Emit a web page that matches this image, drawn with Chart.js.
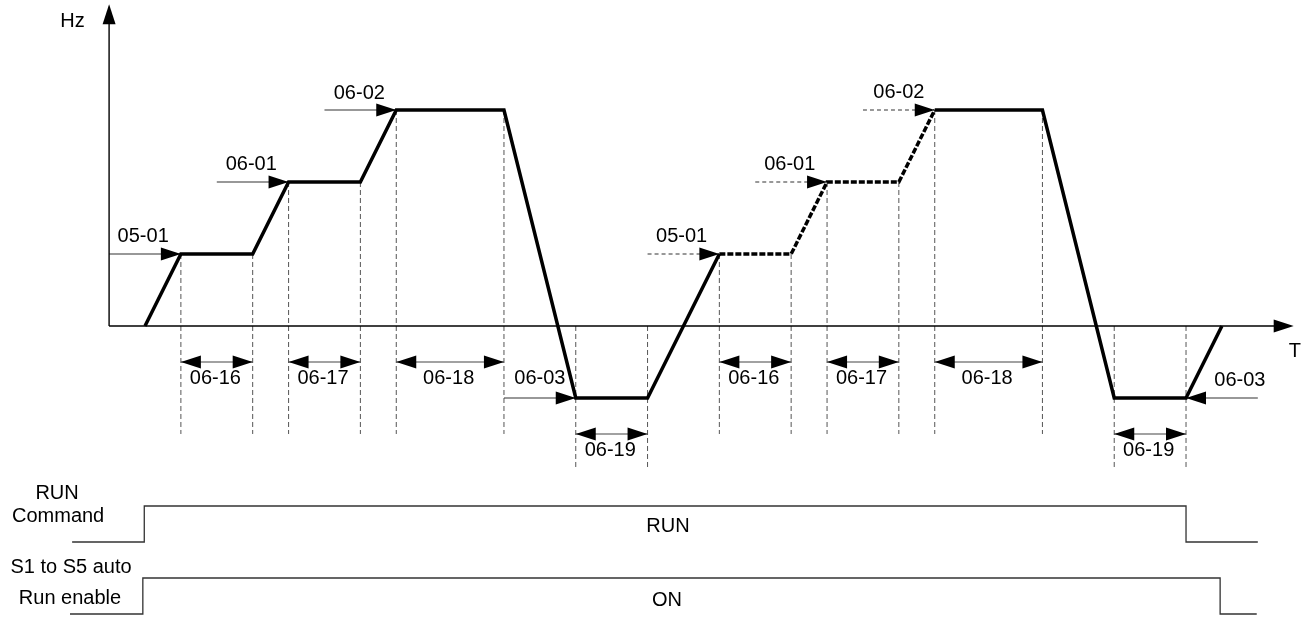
<!DOCTYPE html>
<html>
<head>
<meta charset="utf-8">
<title>Auto run timing</title>
<script src="https://cdn.jsdelivr.net/npm/chart.js@4.4.1/dist/chart.umd.min.js"></script>
<style>
  html, body { margin: 0; padding: 0; background: #fff; }
  #wrap { width: 1307px; height: 617px; }
</style>
</head>
<body>
<div id="wrap"><canvas id="myChart" width="1307" height="617"></canvas></div>
<script>
// time in ramp steps, frequency in preset levels
var solidT = [1, 2, 4, 5, 7, 8, 11, 13, 15, 17];
var solidHz = [0, 1, 1, 2, 2, 3, 3, -1, -1, 1];
var dashT = [17, 19, 20, 22, 23];
var dashHz = [1, 1, 2, 2, 3];
var tailT = [23, 26, 28, 30, 31];
var tailHz = [3, 3, -1, -1, 0];

// preset level arrows
var levelNames = ['05-01', '06-01', '06-02', '06-03', '05-01', '06-01', '06-02', '06-03'];
var levelFrom = [0, 3, 6, 11, 15, 18, 21, 32];
var levelTo = [2, 5, 8, 13, 17, 20, 23, 30];
var levelHz = [1, 2, 3, -1, 1, 2, 3, -1];
var levelDashed = [false, false, false, false, true, true, true, false];
var levelTextT = [0.95, 3.96, 6.97, 12.0, 15.95, 18.96, 22.0, 31.5];
var levelTextHz = [1.25, 2.24, 3.23, -0.73, 1.24, 2.24, 3.24, -0.76];

// timer spans
var spanNames = ['06-16', '06-17', '06-18', '06-19', '06-16', '06-17', '06-18', '06-19'];
var spanFrom = [2, 5, 8, 13, 17, 20, 23, 28];
var spanTo = [4, 7, 11, 15, 19, 22, 26, 30];
var spanHz = [-0.5, -0.5, -0.5, -1.5, -0.5, -0.5, -0.5, -1.5];
var spanTextHz = [-0.73, -0.73, -0.73, -1.73, -0.73, -0.73, -0.73, -1.73];

// dashed guide lines
var guideT = [2, 4, 5, 7, 8, 11, 13, 15, 17, 19, 20, 22, 23, 26, 28, 30];
var guideTop = [1, 1, 2, 2, 3, 3, 0, 0, 1, 1, 2, 2, 3, 3, 0, 0];
var guideBottom = [-1.5, -1.5, -1.5, -1.5, -1.5, -1.5, -2, -2, -1.5, -1.5, -1.5, -1.5, -1.5, -1.5, -2, -2];

// RUN command and auto run enable signals
var runT = [-1.03, 0.98, 0.98, 30, 30, 32];
var runLevel = [-3, -3, -2.5, -2.5, -3, -3];
var enableT = [-1.09, 0.94, 0.94, 30.95, 30.95, 31.97];
var enableLevel = [-4, -4, -3.5, -3.5, -4, -4];

// free text
var textItems = ['Hz', 'T', 'RUN', 'Command', 'S1 to S5 auto', 'Run enable', 'RUN', 'ON'];
var textT = [-1.02, 33.03, -1.45, -1.42, -1.06, -1.09, 15.57, 15.54];
var textHz = [4.23, -0.35, -2.32, -2.65, -3.35, -3.79, -2.79, -3.81];

var FONT = '20px "Liberation Sans", Arial, sans-serif';

function pts(ts, vs) {
    var out = [];
    for (var i = 0; i < ts.length; i++) out.push({x: ts[i], y: vs[i]});
    return out;
}

function line(data, color, width, dash) {
    return {
        data: data,
        showLine: true,
        borderColor: color,
        borderWidth: width,
        borderDash: dash || [],
        pointRadius: 0,
        fill: false,
        tension: 0
    };
}

var datasets = [];
datasets.push(line(pts(solidT, solidHz), '#000', 3.5));
datasets.push(line(pts(dashT, dashHz), '#000', 3.5, [6, 2]));
datasets.push(line(pts(tailT, tailHz), '#000', 3.5));

// axes
datasets.push(line(pts([0, 0], [0, 4.4]), '#000', 1.4));
datasets.push(line(pts([0, 32.9], [0, 0]), '#000', 1.4));

levelNames.forEach(function (n, i) {
    datasets.push(line(pts([levelFrom[i], levelTo[i]], [levelHz[i], levelHz[i]]), '#333', 1.1, levelDashed[i] ? [4, 3] : []));
});
spanNames.forEach(function (n, i) {
    datasets.push(line(pts([spanFrom[i], spanTo[i]], [spanHz[i], spanHz[i]]), '#444', 1.1));
});
guideT.forEach(function (t, i) {
    datasets.push(line(pts([t, t], [guideTop[i], guideBottom[i]]), '#555', 1, [5, 3]));
});
datasets.push(line(pts(runT, runLevel), '#333', 1.3));
datasets.push(line(pts(enableT, enableLevel), '#333', 1.3));

var diagramMarks = {
    id: 'diagramMarks',
    afterDatasetsDraw: function (chart) {
        var ctx = chart.ctx;
        var sx = chart.scales.x, sy = chart.scales.y;
        function px(t) { return sx.getPixelForValue(t); }
        function py(v) { return sy.getPixelForValue(v); }
        function head(x, y, dx, dy, len, half) {
            var nx = -dy, ny = dx;
            ctx.beginPath();
            ctx.moveTo(x, y);
            ctx.lineTo(x - dx * len + nx * half, y - dy * len + ny * half);
            ctx.lineTo(x - dx * len - nx * half, y - dy * len - ny * half);
            ctx.closePath();
            ctx.fill();
        }
        ctx.save();
        ctx.fillStyle = '#000';
        // axis heads
        head(px(0), py(4.47), 0, -1, 20, 6.5);
        head(px(33), py(0), 1, 0, 20, 6.5);
        // level arrows
        levelNames.forEach(function (n, i) {
            var d = levelTo[i] > levelFrom[i] ? 1 : -1;
            head(px(levelTo[i]), py(levelHz[i]), d, 0, 20, 6.5);
        });
        // span arrows
        spanNames.forEach(function (n, i) {
            head(px(spanFrom[i]), py(spanHz[i]), -1, 0, 20, 6.5);
            head(px(spanTo[i]), py(spanHz[i]), 1, 0, 20, 6.5);
        });
        ctx.font = FONT;
        ctx.textAlign = 'center';
        ctx.textBaseline = 'middle';
        levelNames.forEach(function (n, i) {
            ctx.fillText(n, px(levelTextT[i]), py(levelTextHz[i]));
        });
        spanNames.forEach(function (n, i) {
            ctx.fillText(n, px((spanFrom[i] + spanTo[i]) / 2 - 0.04), py(spanTextHz[i]));
        });
        textItems.forEach(function (s, i) {
            ctx.fillText(s, px(textT[i]), py(textHz[i]));
        });
        ctx.restore();
    }
};

var area = document.getElementById('myChart');
new Chart(area, {
    type: 'scatter',
    data: {datasets: datasets},
    options: {
        responsive: false,
        animation: false,
        events: [],
        layout: {padding: 0},
        plugins: {legend: {display: false}, tooltip: {enabled: false}},
        scales: {
            x: {type: 'linear', display: false, min: -3.039, max: 33.37},
            y: {type: 'linear', display: false, min: -4.042, max: 4.528}
        }
    },
    plugins: [diagramMarks]
});
</script>
</body>
</html>
